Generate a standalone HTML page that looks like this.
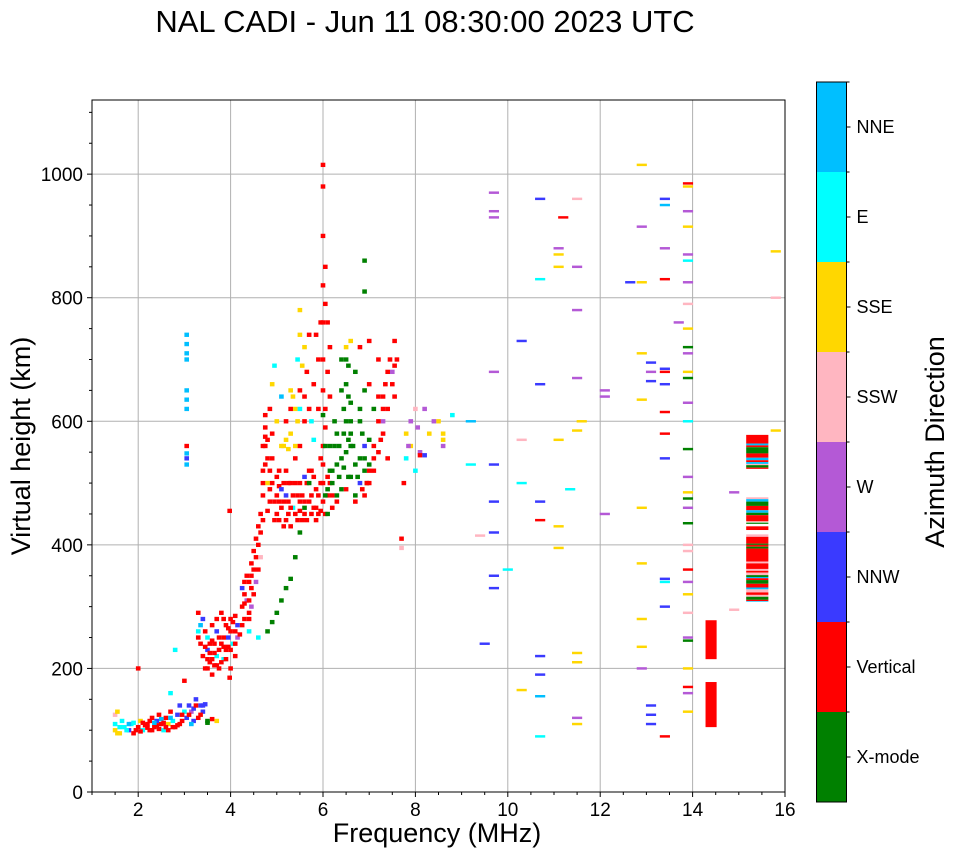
<!DOCTYPE html>
<html><head><meta charset="utf-8">
<style>
body{margin:0;background:#fff;}
svg{display:block;font-family:"Liberation Sans",sans-serif;}
</style></head>
<body>
<svg id="chart" width="958" height="857" xmlns="http://www.w3.org/2000/svg">
<text x="425" y="32" font-size="31" text-anchor="middle">NAL CADI - Jun 11 08:30:00 2023 UTC</text>
<g id="grid"></g>
<g id="marks"></g>
<rect x="92" y="100" width="693" height="692" fill="none" stroke="#000" stroke-width="1"/>
<g id="axes"></g>
<text x="437" y="842" font-size="27" text-anchor="middle">Frequency (MHz)</text>
<text transform="translate(30,446) rotate(-90)" font-size="27" text-anchor="middle">Virtual height (km)</text>
<g id="cbar"></g>
<text transform="translate(944,442) rotate(-90)" font-size="27" text-anchor="middle">Azimuth Direction</text>
</svg>
<script>
const xTicks=[2,4,6,8,10,12,14,16];
const yTicks=[0,200,400,600,800,1000];
const dirNames=["X-mode","Vertical","NNW","W","SSW","SSE","E","NNE"];
const dirColors=["#008000","#ff0000","#3a3aff","#b459d6","#ffb6c1","#ffd700","#00ffff","#00bfff"];
// points: [freq MHz, height km, direction index]
const pts=[
[1.5,100,5],[1.5,110,6],[1.5,125,4],[1.55,130,5],[1.6,95,5],[1.65,115,6],[1.7,105,6],[1.8,100,2],[1.85,110,6],[1.9,95,1],[2.0,105,1],[2.0,200,1],[2.05,115,5],[2.1,100,6],[2.15,108,1],[2.2,110,1],[2.25,100,1],[2.3,120,1],[2.35,105,1],[2.4,115,2],[2.45,125,1],[2.5,110,1],[2.55,100,6],[2.6,120,1],[2.65,110,5],[2.7,130,1],[2.75,115,6],[2.8,105,1],[2.85,125,2],[2.9,140,2],[2.95,115,1],[3.0,130,6],[3.05,120,2],[3.1,140,2],[3.15,130,3],[3.2,135,2],[3.25,150,2],[3.3,120,1],[3.35,140,2],[3.4,130,2],[3.5,112,0],[3.6,118,1],[3.7,115,5],[2.8,230,6],[2.7,160,6],[3.0,180,1],[2.4,108,1],[2.2,104,1],[2.6,105,1],[2.9,110,1],[1.9,112,6],
[1.55,95,5],[1.6,105,6],[1.75,100,6],[1.8,110,7],[1.95,100,1],[2.05,98,1],[2.1,112,1],[2.25,115,1],[2.3,100,1],[2.35,112,7],[2.45,102,1],[2.5,118,7],[2.55,112,1],[2.65,100,1],[2.7,120,7],[2.75,105,1],[2.85,108,1],[2.95,125,1],[3.1,125,1],[3.2,115,2],[3.25,140,1],[3.4,140,2],[3.45,142,2],[3.15,110,7],[3.35,125,1],[3.5,115,0],
[3.05,740,7],[3.05,725,7],[3.05,710,7],[3.05,700,7],[3.05,650,7],[3.05,635,7],[3.05,620,7],[3.05,560,1],[3.05,548,7],[3.05,540,2],[3.05,530,7],
[3.3,290,1],[3.3,260,6],[3.35,240,1],[3.4,220,1],[3.4,280,2],[3.45,200,1],[3.5,250,6],[3.5,230,2],[3.55,210,1],[3.6,270,1],[3.6,190,1],[3.65,240,1],[3.7,220,6],[3.7,260,2],[3.75,200,1],[3.8,290,1],[3.8,240,1],[3.85,215,6],[3.9,270,1],[3.9,230,1],[3.95,250,2],[4.0,280,1],[4.0,200,1],[4.05,240,6],[4.1,260,1],[4.1,220,1],[4.15,270,2],[3.98,455,1],[3.98,185,1],[3.55,225,1],[3.65,205,1],[3.75,230,1],[3.85,250,1],[3.95,265,1],[4.0,230,1],[3.6,245,1],
[3.3,250,1],[3.35,270,7],[3.45,260,1],[3.5,200,1],[3.55,240,1],[3.6,215,1],[3.7,205,1],[3.7,280,1],[3.75,250,1],[3.8,210,1],[3.85,280,1],[3.9,215,1],[3.95,235,1],[4.0,260,1],[4.05,275,1],[4.1,240,1],[4.15,250,3],[3.5,215,1],[3.45,235,1],[3.65,225,1],[3.85,235,1],[4.1,285,1],[4.2,255,1],
[4.25,300,1],[4.25,330,2],[4.3,280,1],[4.35,310,3],[4.35,350,1],[4.4,290,1],[4.4,260,6],[4.45,330,1],[4.5,360,1],[4.55,380,1],[4.55,340,3],[4.6,400,1],[4.65,420,1],[4.6,250,6],[4.3,320,1],[4.45,350,1],
[4.25,270,1],[4.3,340,1],[4.3,305,1],[4.4,310,1],[4.4,340,1],[4.45,370,1],[4.5,320,1],[4.5,390,1],[4.55,410,1],[4.6,360,1],[4.6,430,1],[4.65,380,4],[4.7,440,1],[4.4,280,1],[4.45,300,3],
[4.65,450,1],[4.7,480,1],[4.7,520,1],[4.75,560,1],[4.75,590,1],[4.8,500,5],[4.8,540,1],[4.85,470,1],[4.85,620,1],[4.9,580,1],[4.9,660,5],[4.95,690,6],[4.95,440,1],[5.0,510,1],[5.0,600,5],[5.05,470,1],[5.1,640,7],[5.1,560,5],[5.15,430,1],[5.2,520,1],[5.2,480,2],[5.25,450,1],[5.3,580,5],[5.3,500,1],[5.35,640,5],[5.35,460,6],[5.4,620,5],[5.4,540,1],[5.45,700,6],[5.45,480,1],[5.5,780,5],[5.5,560,1],[5.55,440,1],[5.6,600,1],[5.6,510,2],[5.65,680,1],[5.7,470,1],[5.7,740,1],[5.75,520,1],[5.75,450,1],[5.8,660,1],[5.8,570,6],[5.85,490,1],[5.9,620,1],[5.9,450,1],[5.95,540,1],[6.0,700,1],[6.0,470,1],[6.05,590,1],[6.1,510,1],[6.1,760,1],[6.15,640,1],[6.2,480,1],[4.75,575,1],[4.8,455,1],[5.05,495,1],[5.15,470,1],[5.25,555,5],[5.5,455,1],[5.6,470,1],[5.85,460,1],[5.95,455,1],[6.0,500,1],
[4.7,500,1],[4.7,560,1],[4.75,530,1],[4.75,610,1],[4.8,570,1],[4.85,520,1],[4.85,490,1],[4.9,540,1],[4.9,500,1],[4.95,470,1],[5.0,450,1],[5.0,480,1],[5.05,440,1],[5.05,520,1],[5.1,460,1],[5.1,490,2],[5.15,500,1],[5.2,440,1],[5.25,470,1],[5.25,500,1],[5.3,460,1],[5.3,430,1],[5.35,480,1],[5.4,450,1],[5.4,500,1],[5.45,440,1],[5.5,470,1],[5.5,500,1],[5.55,480,1],[5.6,450,1],[5.65,500,1],[5.65,440,1],[5.7,520,1],[5.75,480,1],[5.8,460,1],[5.8,510,1],[5.85,440,1],[5.9,480,1],[5.95,500,1],[6.0,530,1],[6.05,450,1],[6.1,480,1],[6.15,500,1],[6.2,460,1],[6.0,560,1],[6.05,620,1],[6.1,680,1],[6.15,720,1],[6.0,650,1],[5.9,700,1],[5.85,740,1],[5.95,760,1],[5.5,650,1],[5.3,620,1],[5.2,600,1],[5.6,720,5],[5.5,740,5],[5.55,690,5],[5.3,650,5],[5.2,570,5],[5.15,560,5],[5.4,560,5],[5.45,600,5],[5.5,620,6],[5.6,640,1],[5.7,620,1],[5.75,600,6],
[4.8,260,0],[4.9,275,0],[5.0,290,0],[5.1,310,0],[5.2,330,0],[5.3,345,0],[5.4,380,0],[5.5,420,0],[5.6,460,0],[5.7,500,0],
[6.1,450,0],[6.2,520,0],[6.3,480,0],[6.3,580,0],[6.4,540,0],[6.4,650,0],[6.5,600,0],[6.5,700,0],[6.55,510,0],[6.6,560,0],[6.6,630,0],[6.7,480,0],[6.7,680,0],[6.8,540,0],[6.8,600,0],[6.9,650,0],[6.9,520,0],[7.0,570,0],[7.1,620,0],[6.9,860,0],[6.9,810,0],[6.45,620,0],[6.25,600,0],[6.15,560,0],[6.35,510,0],[6.45,525,0],[6.55,690,0],[6.6,580,0],
[6.5,660,0],[6.55,640,0],[6.6,600,0],[6.65,560,0],[6.7,530,0],[6.75,510,0],[6.4,490,0],[6.3,530,0],[6.25,560,0],[6.2,500,0],[6.15,520,0],[6.1,490,0],[6.05,480,0],[6.8,620,0],[6.85,580,0],[6.9,540,0],[6.95,500,0],[7.0,530,0],[6.5,550,0],[6.55,570,0],[6.45,580,0],[6.35,560,0],[6.0,610,0],[6.05,560,0],[6.6,510,0],[6.4,700,0],
[6.3,470,1],[6.5,490,1],[6.7,470,1],[7.0,500,1],[7.1,520,1],[7.2,550,1],[7.3,580,1],[7.4,620,1],[7.5,660,1],[7.6,700,1],[7.4,540,1],[7.2,640,1],[6.6,730,5],[6.5,720,5],[7.0,730,1],[7.55,730,1],[7.5,680,3],[7.3,600,3],[6.9,560,2],[6.8,500,2],
[6.9,480,1],[7.0,520,1],[7.1,560,1],[7.2,600,1],[7.3,640,1],[7.35,660,1],[7.45,700,1],[7.1,540,1],[7.25,570,1],[7.4,680,1],[6.95,500,1],[6.85,490,1],[7.55,690,1],[7.55,640,1],[7.3,620,1],[7.2,700,1],[7.0,660,1],[6.8,720,1],
[6.0,980,1],[6.0,900,1],[6.05,850,1],[6.0,820,1],[6.05,790,1],[6.0,760,1],[6.0,1015,1],
[7.8,540,6],[7.8,580,5],[7.9,600,3],[7.9,560,5],[8.0,520,6],[8.0,620,4],[8.1,550,3],[8.2,620,3],[8.3,580,5],[8.5,600,5],[8.6,570,5],[8.6,560,3],[8.8,610,6],[9.2,600,7],[7.75,500,1],[7.7,410,1],[7.7,395,4],
[7.85,560,3],[8.05,590,3],[8.1,545,1],[8.2,545,2],[8.4,600,3],[8.6,580,5],
[9.7,970,3],[9.7,940,3],[9.7,930,3],[9.7,680,3],[9.7,530,2],[9.7,470,2],[9.7,420,2],[9.7,350,2],[9.7,330,2],[9.5,240,2],[9.2,530,6],[9.4,415,4],[10.0,360,6],[10.3,730,2],[10.3,570,4],[10.3,500,6],[10.3,165,5],[10.7,960,2],[10.7,830,6],[10.7,660,2],[10.7,470,2],[10.7,440,1],[10.7,220,2],[10.7,190,2],[10.7,155,7],[10.7,90,6],[11.2,930,1],[11.1,880,3],[11.1,870,5],[11.1,850,5],[11.1,570,5],[11.1,430,5],[11.1,395,5],[11.35,490,6],[11.5,960,4],[11.5,850,3],[11.5,780,3],[11.5,670,3],[11.5,585,5],[11.6,600,5],[11.5,225,5],[11.5,210,5],[11.5,120,3],[11.5,110,5],[12.1,650,3],[12.1,640,3],[12.1,450,3],[12.65,825,2],[12.9,1015,5],[12.9,915,3],[12.9,825,5],[12.9,710,5],[12.9,635,5],[12.9,460,5],[12.9,370,5],[12.9,280,5],[12.9,235,5],[12.9,200,3],[13.1,695,2],[13.1,680,3],[13.1,665,2],[13.1,140,2],[13.1,125,2],[13.1,110,2],[13.4,960,2],[13.4,950,7],[13.4,880,3],[13.4,830,1],[13.4,685,2],[13.4,680,1],[13.4,660,2],[13.4,615,1],[13.4,580,1],[13.4,540,2],[13.4,345,2],[13.4,340,6],[13.4,300,2],[13.4,90,1],[13.7,760,3],[13.9,985,1],[13.9,980,5],[13.9,940,3],[13.9,915,5],[13.9,870,3],[13.9,860,6],[13.9,825,3],[13.9,790,4],[13.9,750,5],[13.9,720,0],[13.9,710,3],[13.9,680,5],[13.9,670,0],[13.9,630,3],[13.9,600,6],[13.9,555,0],[13.9,510,3],[13.9,485,5],[13.9,475,0],[13.9,460,3],[13.9,435,0],[13.9,400,4],[13.9,390,4],[13.9,360,1],[13.9,340,3],[13.9,320,5],[13.9,290,4],[13.9,250,3],[13.9,245,0],[13.9,200,5],[13.9,170,1],[13.9,160,3],[13.9,130,5],[14.9,485,3],[14.9,295,4],[15.8,875,5],[15.8,800,4],[15.8,585,5]
];
// bars: [f0, f1, h0, h1, direction]
const bars=[
[14.28,14.52,215,278,1],[14.28,14.52,105,178,1],
[15.16,15.64,564,578,1],[15.16,15.64,561,564,7],[15.16,15.64,558,561,1],[15.16,15.64,548,558,0],[15.16,15.64,541,548,1],[15.16,15.64,537,541,7],[15.16,15.64,534,537,1],[15.16,15.64,531,534,7],[15.16,15.64,529,531,4],[15.16,15.64,525,529,0],[15.16,15.64,523,525,1],
[15.16,15.64,474,477,4],[15.16,15.64,470,474,7],[15.16,15.64,463,470,0],[15.16,15.64,456,463,1],[15.16,15.64,452,456,7],[15.16,15.64,448,452,0],[15.16,15.64,438,448,1],[15.16,15.64,434,436,0],[15.16,15.64,424,430,1],
[15.16,15.64,413,417,4],[15.16,15.64,402,413,1],[15.16,15.64,400,402,0],[15.16,15.64,397,400,1],[15.16,15.64,394,397,0],[15.16,15.64,373,394,1],[15.16,15.64,370,373,4],[15.16,15.64,361,370,1],[15.16,15.64,358,361,4],[15.16,15.64,355,358,1],[15.16,15.64,351,355,4],[15.16,15.64,348,351,0],[15.16,15.64,346,348,7],[15.16,15.64,343,346,1],[15.16,15.64,337,343,0],[15.16,15.64,331,337,1],[15.16,15.64,328,331,7],[15.16,15.64,323,328,4],[15.16,15.64,319,323,1],[15.16,15.64,316,319,4],[15.16,15.64,311,316,0],[15.16,15.64,309,311,1],[15.16,15.64,308,309,7]
];
const X0=92,X1=785,Y0=792,Y1=100,FMIN=1,FMAX=16,HMIN=0,HMAX=1120;
const xs=f=>X0+(f-FMIN)/(FMAX-FMIN)*(X1-X0);
const ys=h=>Y0-(h-HMIN)/(HMAX-HMIN)*(Y0-Y1);
const NS="http://www.w3.org/2000/svg";
function mk(tag,attrs,parent){const e=document.createElementNS(NS,tag);for(const k in attrs)e.setAttribute(k,attrs[k]);parent.appendChild(e);return e;}
const grid=document.getElementById('grid'),axes=document.getElementById('axes'),marks=document.getElementById('marks'),cbar=document.getElementById('cbar');
xTicks.forEach(t=>{const x=xs(t);
 if(t<16){const l=mk('line',{x1:x,x2:x,y1:Y1,y2:Y0,stroke:'#b0b0b0','stroke-width':1},grid);}
 mk('line',{x1:x,x2:x,y1:Y0,y2:Y0+5,stroke:'#000'},axes);
 const tx=mk('text',{x:x,y:Y0+24,'font-size':19,'text-anchor':'middle'},axes);tx.textContent=t;
 });
for(let f=1;f<=16;f+=0.5){if(f%2!==0)mk('line',{x1:xs(f),x2:xs(f),y1:Y0,y2:Y0+3,stroke:'#000'},axes);}
yTicks.forEach(t=>{const y=ys(t);
 if(t>0){const l=mk('line',{x1:X0,x2:X1,y1:y,y2:y,stroke:'#b0b0b0','stroke-width':1},grid);}
 mk('line',{x1:X0-5,x2:X0,y1:y,y2:y,stroke:'#000'},axes);
 const tx=mk('text',{x:X0-9,y:y+7,'font-size':19,'text-anchor':'end'},axes);tx.textContent=t;
 });
for(let h=50;h<=1100;h+=50){if(h%200!==0)mk('line',{x1:X0-3,x2:X0,y1:ys(h),y2:ys(h),stroke:'#000'},axes);}
pts.forEach(p=>{const w=p[0]>=9?0.22:0.1;const hh=p[0]>=9?4:7;
 const r=mk('rect',{x:xs(p[0]-w/2),y:ys(p[1]+hh/2),width:(X1-X0)*w/(FMAX-FMIN),height:(Y0-Y1)*hh/(HMAX-HMIN),fill:dirColors[p[2]]},marks);
 });
bars.forEach(b=>{const r=mk('rect',{x:xs(b[0]),y:ys(b[3]),width:xs(b[1])-xs(b[0]),height:ys(b[2])-ys(b[3]),fill:dirColors[b[4]]},marks);
 });
const CB0=82,CB1=802,CX=816.5,CW=30,seg=(CB1-CB0)/dirNames.length;
dirNames.forEach((n,i)=>{const y=CB1-(i+1)*seg;
 const r=mk('rect',{x:CX,y:y,width:CW,height:seg,fill:dirColors[i]},cbar);
 
 mk('line',{x1:CX+CW,x2:CX+CW+4,y1:y+seg/2,y2:y+seg/2,stroke:'#000'},cbar);
 mk('line',{x1:CX+CW,x2:CX+CW+3,y1:y,y2:y,stroke:'#000'},cbar);
 const t=mk('text',{x:CX+CW+10,y:y+seg/2+6,'font-size':18},cbar);t.textContent=n;
 });
mk('rect',{x:CX,y:CB0,width:CW,height:CB1-CB0,fill:'none',stroke:'#000'},cbar);
</script>
</body></html>
